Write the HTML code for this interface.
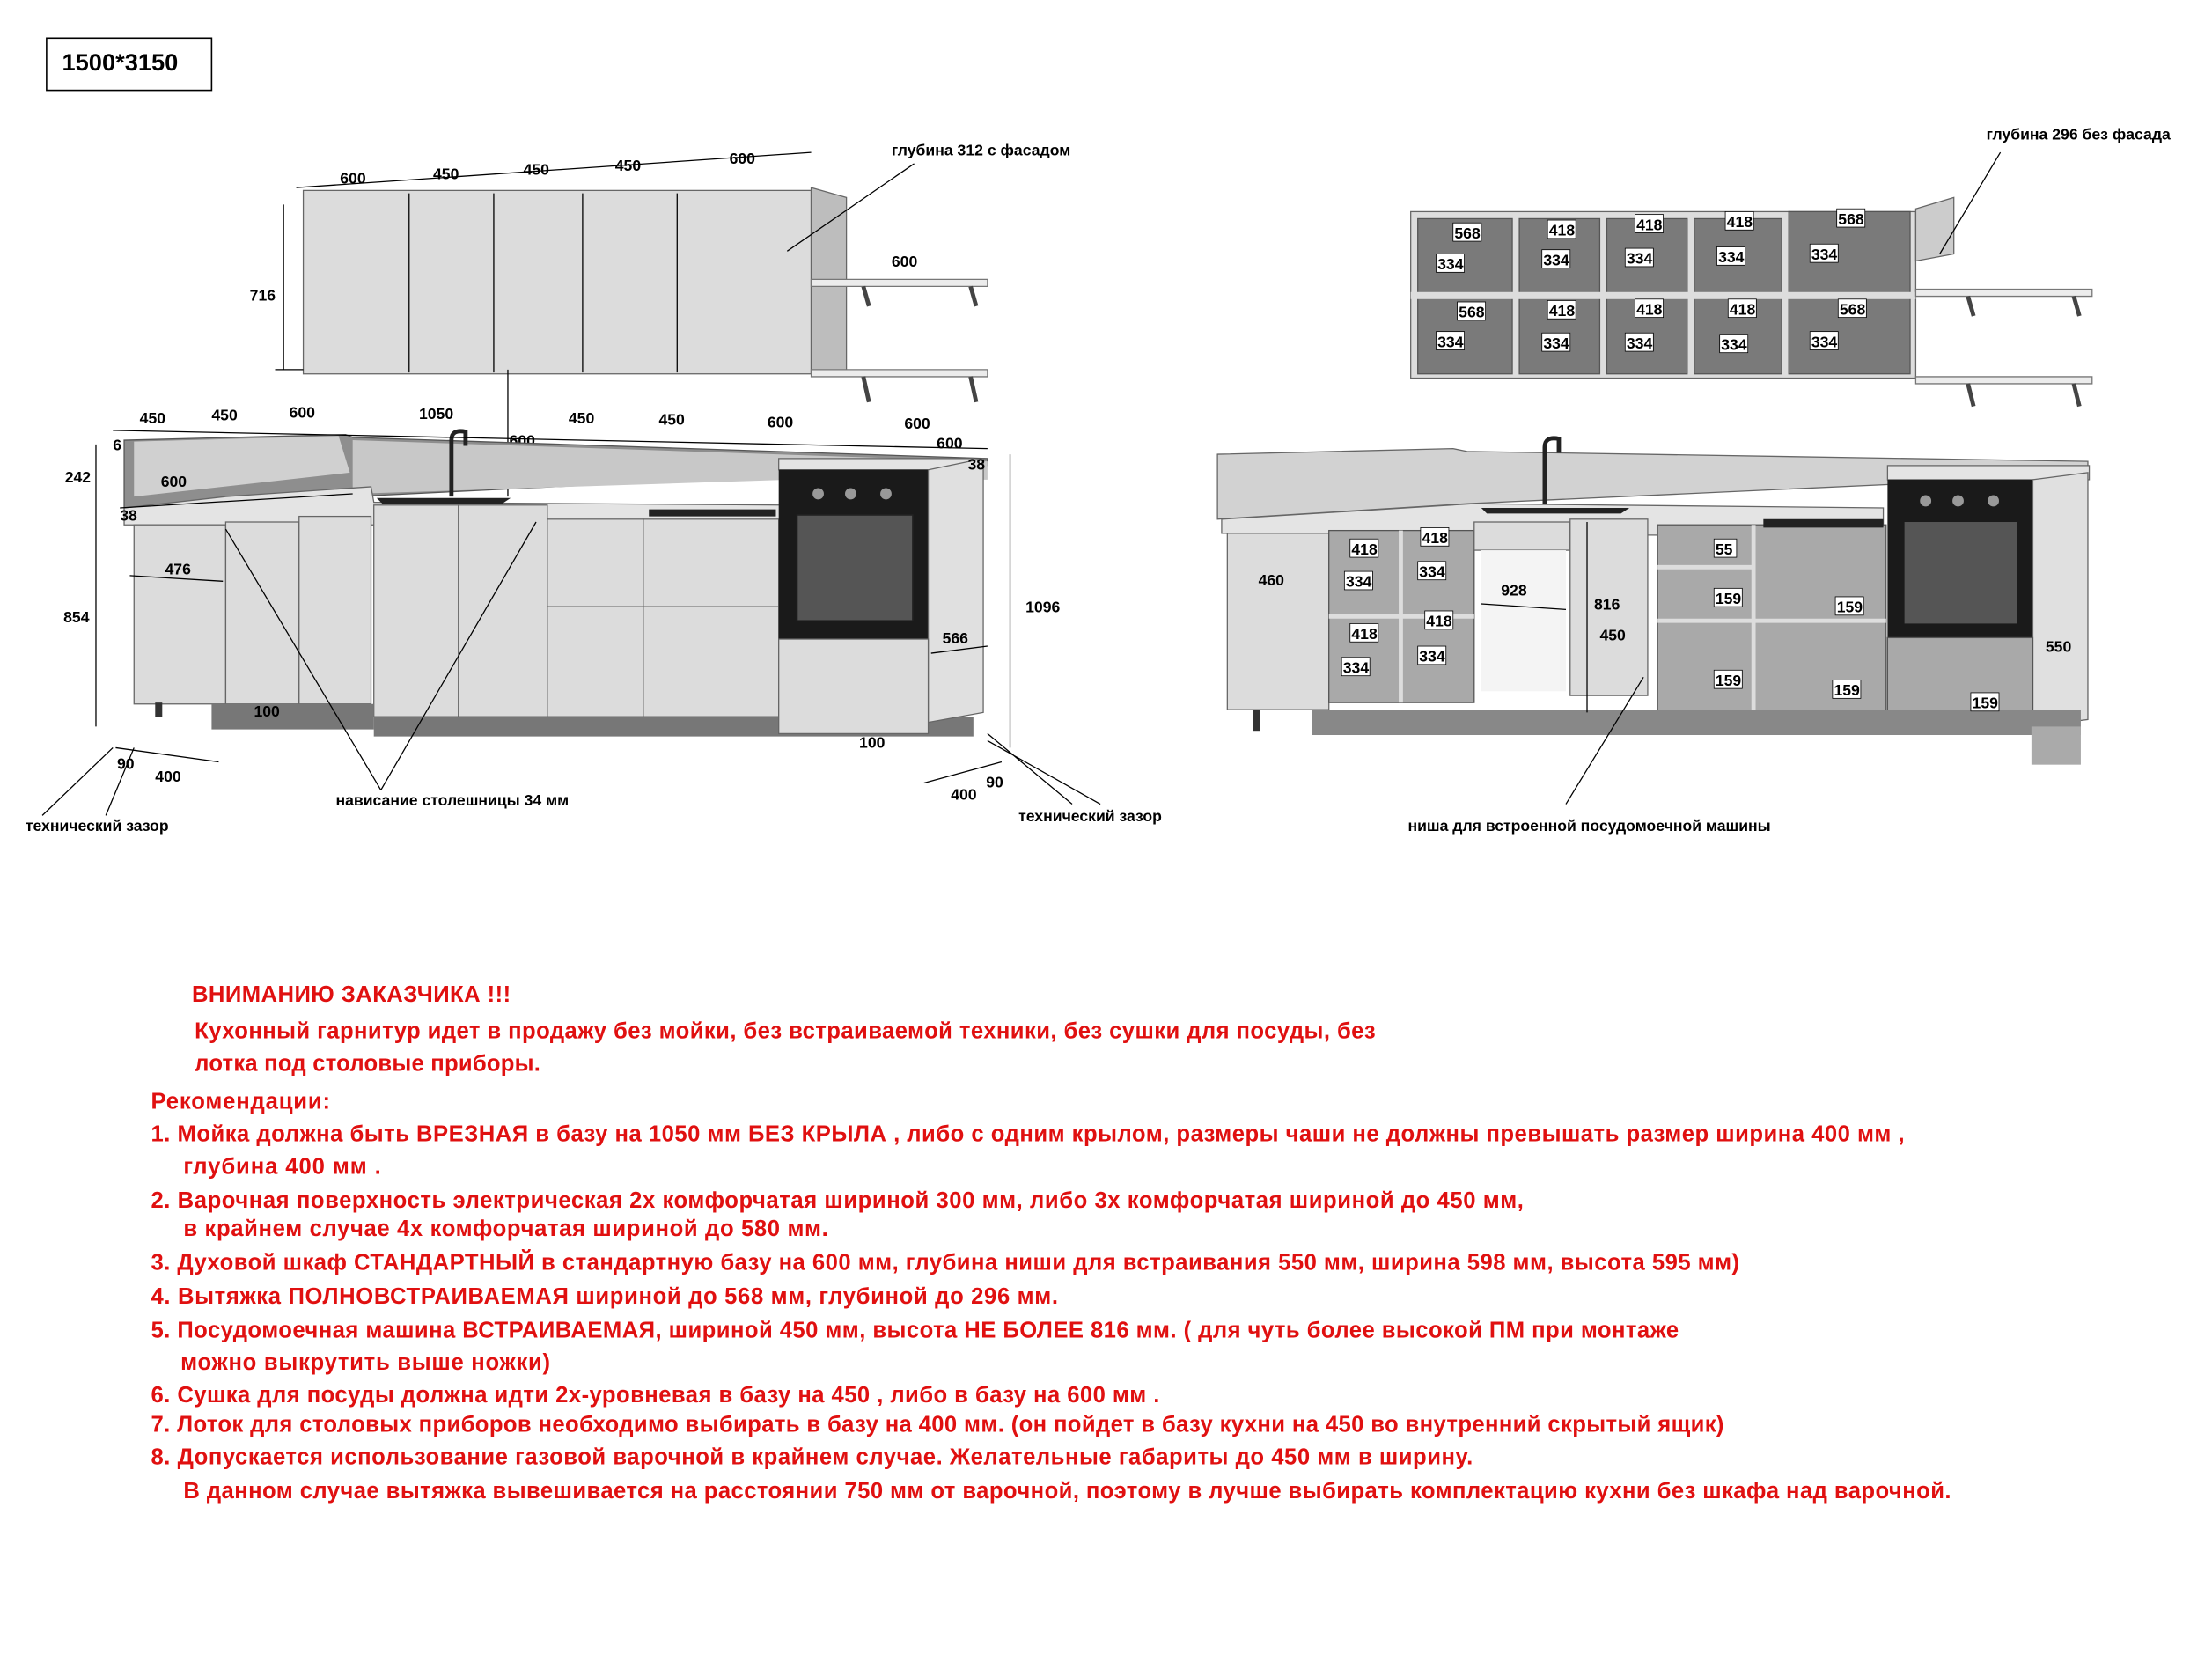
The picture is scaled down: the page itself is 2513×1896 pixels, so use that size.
<!DOCTYPE html>
<html><head><meta charset="utf-8"><style>
html,body{margin:0;padding:0;background:#fff}
svg{display:block}
text{font-family:"Liberation Sans",sans-serif;font-weight:bold}
.d{font-size:11px;fill:#000}
.r{font-size:16px;fill:#e01010}
.ln{stroke:#000;stroke-width:0.8;fill:none}
.c{fill:#dcdcdc;stroke:#666;stroke-width:0.8}
.w{fill:#ececec;stroke:#777;stroke-width:0.8}
.dk{fill:#7a7a7a;stroke:#555;stroke-width:0.8}
.dl{fill:#a9a9a9;stroke:#555;stroke-width:0.8}
.lb{fill:#fff;stroke:#000;stroke-width:0.5}
</style></head><body>
<svg width="2513" height="1896" viewBox="0 0 1568 1183" xmlns="http://www.w3.org/2000/svg">
<rect x="33" y="27" width="117" height="37" fill="#fff" stroke="#000" stroke-width="1"/>
<text x="44" y="50" style="font-size:17px">1500*3150</text>

<!-- LEFT: upper cabinets -->
<rect x="215" y="135" width="360" height="130" class="c"/>
<line x1="290" y1="137" x2="290" y2="264" class="ln"/><line x1="350" y1="137" x2="350" y2="264" class="ln"/>
<line x1="413" y1="137" x2="413" y2="264" class="ln"/><line x1="480" y1="137" x2="480" y2="264" class="ln"/>
<polygon points="575,133 600,140 600,198 600,265 575,265" fill="#bdbdbd" stroke="#666" stroke-width="0.8"/>
<polygon points="575,198 700,198 700,203 575,203" class="w"/>
<polygon points="575,262 700,262 700,267 575,267" class="w"/>
<path d="M612 203 l4 14 M688 203 l4 14 M612 267 l4 18 M688 267 l4 18" stroke="#444" stroke-width="3"/>
<path d="M210 133 L575 108" class="ln"/>
<text class="d" x="241" y="130">600</text><text class="d" x="307" y="127">450</text><text class="d" x="371" y="124">450</text><text class="d" x="436" y="121">450</text><text class="d" x="517" y="116">600</text>
<text class="d" x="632" y="110">глубина 312 с фасадом</text>
<line x1="558" y1="178" x2="648" y2="116" class="ln"/>
<text class="d" x="632" y="189">600</text>
<line x1="201" y1="145" x2="201" y2="262" class="ln"/><line x1="195" y1="262" x2="215" y2="262" class="ln"/>
<text class="d" x="177" y="213">716</text>
<line x1="360" y1="262" x2="360" y2="352" class="ln"/><text class="d" x="361" y="316">600</text>

<!-- LEFT lower -->
<polygon points="88,312 245,308 250,310 700,325 700,330 250,352 160,360 88,360" fill="#8e8e8e" stroke="#555" stroke-width="0.8"/>
<polygon points="95,313 240,309 248,335 95,352" fill="#d0d0d0"/>
<polygon points="250,312 700,327 700,340 560,340 250,350" fill="#c8c8c8"/>
<polygon points="88,360 160,352 263,345 265,356 555,358 555,372 160,372 88,372" fill="#e4e4e4" stroke="#666" stroke-width="0.8"/>
<rect x="95" y="372" width="65" height="127" class="c"/>
<rect x="160" y="370" width="52" height="129" class="c"/><rect x="212" y="366" width="51" height="133" class="c"/>
<rect x="265" y="358" width="60" height="150" class="c"/><rect x="325" y="358" width="63" height="150" class="c"/>
<rect x="388" y="368" width="68" height="62" class="c"/><rect x="456" y="368" width="96" height="62" class="c"/>
<rect x="388" y="430" width="68" height="78" class="c"/><rect x="456" y="430" width="96" height="78" class="c"/>
<rect x="150" y="499" width="115" height="18" fill="#777"/><rect x="265" y="508" width="425" height="14" fill="#777"/>
<rect x="552" y="325" width="138" height="8" fill="#e4e4e4" stroke="#666" stroke-width="0.8"/>
<rect x="552" y="333" width="106" height="120" fill="#1a1a1a"/>
<rect x="565" y="365" width="82" height="75" fill="#555" stroke="#222"/>
<circle cx="580" cy="350" r="4" fill="#999"/><circle cx="603" cy="350" r="4" fill="#999"/><circle cx="628" cy="350" r="4" fill="#999"/>
<polygon points="658,333 697,325 697,505 658,512" fill="#e0e0e0" stroke="#666" stroke-width="0.8"/>
<rect x="552" y="453" width="106" height="67" class="c"/>
<path d="M267 353 h95 l-6 4 h-85z" fill="#222"/><path d="M460 361 h90 v5 h-90z" fill="#222"/>
<path d="M320 352 v-40 q0-8 10-6 v10" stroke="#222" stroke-width="3" fill="none"/>
<rect x="110" y="498" width="5" height="10" fill="#333"/>
<!-- left dims -->
<path d="M80 305 L700 318 M85 360 L250 350" class="ln"/>
<text class="d" x="99" y="300">450</text><text class="d" x="150" y="298">450</text><text class="d" x="205" y="296">600</text><text class="d" x="297" y="297">1050</text>
<text class="d" x="403" y="300">450</text><text class="d" x="467" y="301">450</text><text class="d" x="544" y="303">600</text><text class="d" x="641" y="304">600</text><text class="d" x="664" y="318">600</text>
<text class="d" x="686" y="333">38</text><text class="d" x="80" y="319">6</text><text class="d" x="46" y="342">242</text><text class="d" x="114" y="345">600</text>
<text class="d" x="85" y="369">38</text><text class="d" x="117" y="407">476</text><text class="d" x="45" y="441">854</text><text class="d" x="180" y="508">100</text>
<text class="d" x="609" y="530">100</text><text class="d" x="668" y="456">566</text><text class="d" x="727" y="434">1096</text>
<text class="d" x="83" y="545">90</text><text class="d" x="110" y="554">400</text><text class="d" x="699" y="558">90</text><text class="d" x="674" y="567">400</text>
<line x1="68" y1="315" x2="68" y2="515" class="ln"/><line x1="716" y1="322" x2="716" y2="530" class="ln"/>
<line x1="92" y1="408" x2="158" y2="412" class="ln"/><line x1="660" y1="463" x2="700" y2="458" class="ln"/>
<line x1="82" y1="530" x2="155" y2="540" class="ln"/><line x1="655" y1="555" x2="710" y2="540" class="ln"/>
<path d="M30 578 L80 530 M75 578 L95 530" class="ln"/><path d="M760 570 L700 520 M780 570 L700 525" class="ln"/>
<path d="M270 560 L160 375 M270 560 L380 370" class="ln"/>
<text class="d" x="18" y="589">технический зазор</text><text class="d" x="238" y="571">нависание столешницы 34 мм</text><text class="d" x="722" y="582">технический зазор</text>

<!-- RIGHT upper open -->
<rect x="1000" y="150" width="358" height="118" fill="#ddd" stroke="#666" stroke-width="0.8"/>
<rect x="1005" y="155" width="67" height="110" class="dk"/><rect x="1077" y="155" width="57" height="110" class="dk"/>
<rect x="1139" y="155" width="57" height="110" class="dk"/><rect x="1201" y="155" width="62" height="110" class="dk"/><rect x="1268" y="150" width="86" height="115" class="dk"/>
<rect x="1000" y="207" width="358" height="5" fill="#ddd"/>
<polygon points="1358,148 1385,140 1385,180 1358,185" fill="#ccc" stroke="#666" stroke-width="0.8"/>
<polygon points="1358,205 1483,205 1483,210 1358,210" class="w"/><polygon points="1358,267 1483,267 1483,272 1358,272" class="w"/>
<path d="M1395 210 l4 14 M1470 210 l4 14 M1395 272 l4 16 M1470 272 l4 16" stroke="#444" stroke-width="3"/>
<text class="d" x="1408" y="99">глубина 296 без фасада</text><line x1="1375" y1="180" x2="1418" y2="108" class="ln"/>
<g class="d">
<rect x="1030" y="158" width="20" height="13" class="lb"/><text x="1031" y="169">568</text>
<rect x="1018" y="180" width="20" height="13" class="lb"/><text x="1019" y="191">334</text>
<rect x="1097" y="156" width="20" height="13" class="lb"/><text x="1098" y="167">418</text>
<rect x="1093" y="177" width="20" height="13" class="lb"/><text x="1094" y="188">334</text>
<rect x="1159" y="152" width="20" height="13" class="lb"/><text x="1160" y="163">418</text>
<rect x="1152" y="176" width="20" height="13" class="lb"/><text x="1153" y="187">334</text>
<rect x="1223" y="150" width="20" height="13" class="lb"/><text x="1224" y="161">418</text>
<rect x="1217" y="175" width="20" height="13" class="lb"/><text x="1218" y="186">334</text>
<rect x="1302" y="148" width="20" height="13" class="lb"/><text x="1303" y="159">568</text>
<rect x="1283" y="173" width="20" height="13" class="lb"/><text x="1284" y="184">334</text>
<rect x="1033" y="214" width="20" height="13" class="lb"/><text x="1034" y="225">568</text>
<rect x="1018" y="235" width="20" height="13" class="lb"/><text x="1019" y="246">334</text>
<rect x="1097" y="213" width="20" height="13" class="lb"/><text x="1098" y="224">418</text>
<rect x="1093" y="236" width="20" height="13" class="lb"/><text x="1094" y="247">334</text>
<rect x="1159" y="212" width="20" height="13" class="lb"/><text x="1160" y="223">418</text>
<rect x="1152" y="236" width="20" height="13" class="lb"/><text x="1153" y="247">334</text>
<rect x="1225" y="212" width="20" height="13" class="lb"/><text x="1226" y="223">418</text>
<rect x="1219" y="237" width="20" height="13" class="lb"/><text x="1220" y="248">334</text>
<rect x="1303" y="212" width="20" height="13" class="lb"/><text x="1304" y="223">568</text>
<rect x="1283" y="235" width="20" height="13" class="lb"/><text x="1284" y="246">334</text>
</g>

<!-- RIGHT lower -->
<polygon points="863,322 1030,318 1040,320 1480,327 1480,337 1040,357 863,368" fill="#d2d2d2" stroke="#666" stroke-width="0.8"/>
<polygon points="866,368 1045,357 1335,360 1335,380 866,378" fill="#e4e4e4" stroke="#666" stroke-width="0.8"/>
<rect x="870" y="378" width="72" height="125" class="c"/>
<rect x="942" y="376" width="103" height="122" class="dl"/>
<rect x="1045" y="370" width="68" height="20" class="c"/>
<rect x="1050" y="390" width="60" height="100" fill="#f4f4f4"/>
<rect x="1113" y="368" width="55" height="125" class="c"/>
<rect x="1175" y="372" width="162" height="138" class="dl"/>
<line x1="1243" y1="372" x2="1243" y2="510" stroke="#ddd" stroke-width="3"/>
<line x1="1175" y1="402" x2="1243" y2="402" stroke="#ddd" stroke-width="3"/>
<line x1="1175" y1="440" x2="1337" y2="440" stroke="#ddd" stroke-width="3"/>
<line x1="942" y1="437" x2="1045" y2="437" stroke="#ddd" stroke-width="3"/>
<line x1="993" y1="376" x2="993" y2="498" stroke="#ddd" stroke-width="3"/>
<rect x="1338" y="330" width="143" height="10" fill="#e4e4e4" stroke="#666" stroke-width="0.8"/>
<rect x="1338" y="340" width="103" height="112" fill="#1a1a1a"/><rect x="1350" y="370" width="80" height="72" fill="#555"/>
<circle cx="1365" cy="355" r="4" fill="#999"/><circle cx="1388" cy="355" r="4" fill="#999"/><circle cx="1413" cy="355" r="4" fill="#999"/>
<polygon points="1441,340 1480,335 1480,510 1441,515" fill="#e0e0e0" stroke="#666" stroke-width="0.8"/>
<rect x="1338" y="452" width="103" height="63" class="dl"/>
<rect x="930" y="503" width="545" height="18" fill="#888"/><rect x="1440" y="515" width="35" height="27" fill="#aaa"/>
<path d="M1050 360 h105 l-6 4 h-95z" fill="#222"/><path d="M1250 368 h85 v6 h-85z" fill="#222"/>
<path d="M1095 357 v-40 q0-8 10-6 v10" stroke="#222" stroke-width="3" fill="none"/>
<rect x="888" y="503" width="5" height="15" fill="#333"/>
<g class="d">
<text x="892" y="415">460</text><text x="1064" y="422">928</text><text x="1130" y="432">816</text><text x="1134" y="454">450</text><text x="1450" y="462">550</text>
<rect x="957" y="382" width="20" height="13" class="lb"/><text x="958" y="393">418</text>
<rect x="953" y="405" width="20" height="13" class="lb"/><text x="954" y="416">334</text>
<rect x="1007" y="374" width="20" height="13" class="lb"/><text x="1008" y="385">418</text>
<rect x="1005" y="398" width="20" height="13" class="lb"/><text x="1006" y="409">334</text>
<rect x="957" y="442" width="20" height="13" class="lb"/><text x="958" y="453">418</text>
<rect x="951" y="466" width="20" height="13" class="lb"/><text x="952" y="477">334</text>
<rect x="1010" y="433" width="20" height="13" class="lb"/><text x="1011" y="444">418</text>
<rect x="1005" y="458" width="20" height="13" class="lb"/><text x="1006" y="469">334</text>
<rect x="1215" y="382" width="16" height="13" class="lb"/><text x="1216" y="393">55</text>
<rect x="1215" y="417" width="20" height="13" class="lb"/><text x="1216" y="428">159</text>
<rect x="1301" y="423" width="20" height="13" class="lb"/><text x="1302" y="434">159</text>
<rect x="1215" y="475" width="20" height="13" class="lb"/><text x="1216" y="486">159</text>
<rect x="1299" y="482" width="20" height="13" class="lb"/><text x="1300" y="493">159</text>
<rect x="1397" y="491" width="20" height="13" class="lb"/><text x="1398" y="502">159</text>
</g>
<line x1="1050" y1="428" x2="1110" y2="432" class="ln"/><line x1="1125" y1="370" x2="1125" y2="505" class="ln"/>
<line x1="1110" y1="570" x2="1165" y2="480" class="ln"/>
<text class="d" x="998" y="589">ниша для встроенной посудомоечной машины</text>

<!-- text -->
<g class="r">
<text x="136" y="710" textLength="226" lengthAdjust="spacing">ВНИМАНИЮ ЗАКАЗЧИКА !!!</text>
<text x="138" y="736" textLength="837" lengthAdjust="spacing">Кухонный гарнитур идет в продажу без мойки, без встраиваемой техники, без сушки для посуды, без</text>
<text x="138" y="759" textLength="245" lengthAdjust="spacing">лотка под столовые приборы.</text>
<text x="107" y="786" textLength="127" lengthAdjust="spacing">Рекомендации:</text>
<text x="107" y="809" textLength="1243" lengthAdjust="spacing">1.  Мойка должна быть ВРЕЗНАЯ в базу на 1050 мм БЕЗ КРЫЛА , либо с одним крылом, размеры чаши  не должны превышать размер ширина  400  мм ,</text>
<text x="130" y="832" textLength="140" lengthAdjust="spacing">глубина  400 мм .</text>
<text x="107" y="856" textLength="973" lengthAdjust="spacing">2.  Варочная поверхность электрическая 2х комфорчатая шириной 300 мм, либо 3х комфорчатая шириной до 450 мм,</text>
<text x="130" y="876" textLength="457" lengthAdjust="spacing">в крайнем случае 4х комфорчатая шириной до 580 мм.</text>
<text x="107" y="900" textLength="1126" lengthAdjust="spacing">3.  Духовой шкаф СТАНДАРТНЫЙ в стандартную базу на 600 мм, глубина ниши для встраивания 550 мм, ширина 598 мм, высота 595 мм)</text>
<text x="107" y="924" textLength="643" lengthAdjust="spacing">4.  Вытяжка ПОЛНОВСТРАИВАЕМАЯ  шириной до 568 мм, глубиной до 296 мм.</text>
<text x="107" y="948" textLength="1083" lengthAdjust="spacing">5.  Посудомоечная машина ВСТРАИВАЕМАЯ, шириной 450 мм, высота НЕ БОЛЕЕ 816 мм. ( для чуть более высокой ПМ при монтаже</text>
<text x="128" y="971" textLength="262" lengthAdjust="spacing">можно выкрутить выше ножки)</text>
<text x="107" y="994" textLength="715" lengthAdjust="spacing">6.  Сушка для посуды должна идти 2х-уровневая  в базу на 450 , либо в базу на 600 мм .</text>
<text x="107" y="1015" textLength="1115" lengthAdjust="spacing">7.  Лоток для столовых приборов необходимо выбирать в базу на 400 мм. (он пойдет в базу кухни на 450 во внутренний скрытый ящик)</text>
<text x="107" y="1038" textLength="937" lengthAdjust="spacing">8.  Допускается использование газовой варочной в крайнем случае. Желательные габариты до 450 мм в ширину.</text>
<text x="130" y="1062" textLength="1253" lengthAdjust="spacing">В данном случае вытяжка вывешивается на расстоянии 750 мм от варочной, поэтому в лучше выбирать комплектацию кухни без шкафа над варочной.</text>
</g>
</svg>
</body></html>
